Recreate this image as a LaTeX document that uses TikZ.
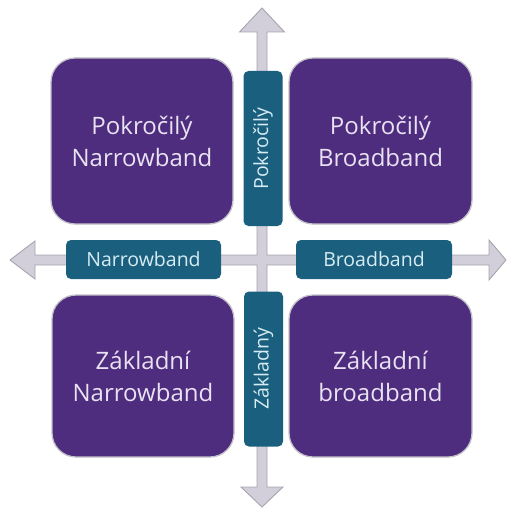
\documentclass[tikz,border=0pt]{standalone}
\usepackage{fontspec}
\setmainfont{Open Sans}
\definecolor{quadfill}{HTML}{4E2C7E}
\definecolor{quadedge}{HTML}{C4C2C8}
\definecolor{quadtext}{HTML}{E8E2F2}
\definecolor{tagfill}{HTML}{1B5F7F}
\definecolor{tagtext}{HTML}{D6ECF3}
\definecolor{axisfill}{HTML}{D2CFDB}
\definecolor{axisedge}{HTML}{A6A4AE}
\tikzset{
  quadbox/.style={rectangle, rounded corners=24pt, fill=quadfill, draw=quadedge,
    line width=1.3pt, text=quadtext, align=center, inner sep=0pt,
    font=\fontsize{24}{32}\selectfont},
  tagbox/.style={rectangle, rounded corners=5pt, fill=tagfill, draw=none,
    text=tagtext, inner sep=0pt, minimum width=155pt, minimum height=39pt,
    font=\fontsize{19.5}{22}\selectfont},
  axiscross/.style={fill=axisfill, draw=axisedge, line width=0.9pt, line join=miter}
}
\begin{document}
\begin{tikzpicture}[x=1pt,y=-1pt]
\useasboundingbox (0,0) rectangle (506,508);

% the four-way arrow cross behind everything
\path[axiscross]
  (262,8) -- (284.5,32) -- (267,32) -- (267,255) -- (489,255) -- (489,240)
  -- (506,260) -- (489,280) -- (489,265) -- (267,265) -- (267,487)
  -- (283,487) -- (262,507) -- (241,487) -- (257,487) -- (257,265)
  -- (35,265) -- (35,279) -- (10,260) -- (35,241) -- (35,255) -- (257,255)
  -- (257,32) -- (239.5,32) -- cycle;

% quadrants
\node[quadbox, minimum width=182pt, minimum height=166pt] (pn) at (142,141)
  {Pokročilý\\Narrowband};
\node[quadbox, minimum width=183pt, minimum height=166pt] (pb) at (380.5,141)
  {Pokročilý\\Broadband};
\node[quadbox, minimum width=182pt, minimum height=162pt] (zn) at (143,376)
  {Základní\\Narrowband};
\node[quadbox, minimum width=183pt, minimum height=162pt] (zb) at (380.5,376)
  {Základní\\broadband};

% axis labels
\node[tagbox, rotate=90] (adv) at (263,148.5) {Pokročilý};
\node[tagbox, rotate=90] (basic) at (263.5,369) {Základný};
\node[tagbox] (narrow) at (143.5,259.5) {Narrowband};
\node[tagbox, minimum width=156pt] (broad) at (374,259.5) {Broadband};
\end{tikzpicture}
\end{document}
